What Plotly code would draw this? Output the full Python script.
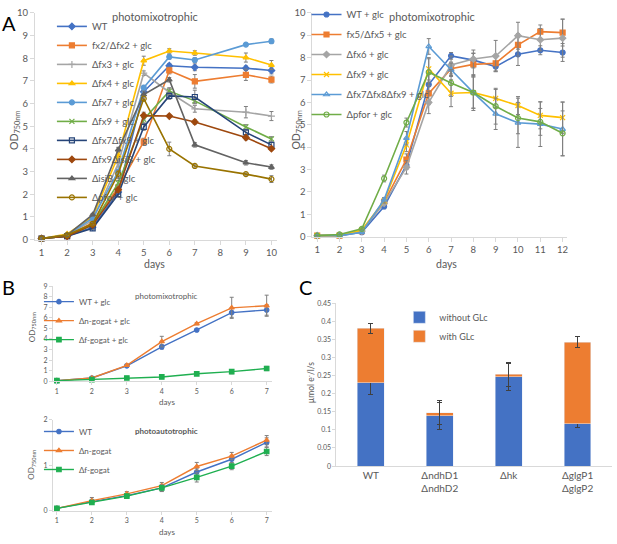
import plotly.graph_objects as go

W, H = 617, 544
FONT = "Lato"
TXT = "#595959"
AX = "#D9D9D9"
ERR = "#7F7F7F"

# ---- panel A left: photomixotrophic, days 1-10 (no day 8)
a1_days = [1, 2, 3, 4, 5, 6, 7, 9, 10]
a1_names = ["WT", "fx2/Δfx2 + glc", "Δfx3 + glc", "Δfx4 + glc", "Δfx7 + glc",
            "Δfx9 + glc", "Δfx7Δfx9 + glc", "Δfx9ΔisiB + glc", "ΔisiB + glc", "Δpfor + glc"]
a1_wt      = [0.05, 0.15, 0.55, 2.1, 6.52, 7.67, 7.6, 7.56, 7.46]
a1_fx2     = [0.05, 0.15, 0.75, 2.3, 4.32, 7.46, 6.98, 7.27, 7.06]
a1_fx3     = [0.05, 0.2, 0.85, 3.35, 7.34, 6.5, 5.77, 5.62, 5.45]
a1_fx4     = [0.05, 0.25, 1.0, 3.7, 7.89, 8.32, 8.23, 8.03, 7.7]
a1_fx7     = [0.05, 0.2, 0.95, 3.0, 6.7, 8.06, 7.92, 8.6, 8.75]
a1_fx9     = [0.05, 0.15, 0.65, 2.5, 5.3, 6.55, 6.12, 4.97, 4.44]
a1_fx7fx9  = [0.05, 0.15, 0.5, 2.0, 4.97, 6.34, 6.29, 4.73, 4.18]
a1_fx9isiB = [0.05, 0.15, 0.65, 2.2, 5.47, 5.45, 5.19, 4.5, 4.01]
a1_isiB    = [0.05, 0.2, 1.1, 3.97, 6.4, 7.05, 4.18, 3.39, 3.2]
a1_pfor    = [0.05, 0.2, 0.7, 2.9, 6.22, 4.0, 3.25, 2.89, 2.67]
a1_err = [
    [0.02, 0.02, 0.05, 0.1, 0.15, 0.1, 0.15, 0.1, 0.15],
    [0.02, 0.02, 0.05, 0.1, 0.15, 0.15, 0.3, 0.25, 0.15],
    [0.02, 0.02, 0.05, 0.15, 0.1, 0.15, 0.15, 0.25, 0.2],
    [0.02, 0.02, 0.05, 0.15, 0.2, 0.1, 0.1, 0.2, 0.2],
    [0.02, 0.02, 0.05, 0.1, 0.1, 0.1, 0.1, 0.05, 0.1],
    [0.02, 0.02, 0.05, 0.1, 0.15, 0.15, 0.1, 0.1, 0.1],
    [0.02, 0.02, 0.05, 0.1, 0.15, 0.15, 0.3, 0.1, 0.1],
    [0.02, 0.02, 0.05, 0.1, 0.15, 0.05, 0.1, 0.1, 0.05],
    [0.02, 0.02, 0.05, 0.1, 0.15, 0.1, 0.1, 0.1, 0.1],
    [0.02, 0.02, 0.05, 0.15, 0.1, 0.3, 0.05, 0.05, 0.15],
]
a1_vals = [a1_wt, a1_fx2, a1_fx3, a1_fx4, a1_fx7, a1_fx9, a1_fx7fx9, a1_fx9isiB, a1_isiB, a1_pfor]
a1_colors = ["#4472C4", "#ED7D31", "#A5A5A5", "#FFC000", "#5B9BD5",
             "#70AD47", "#264478", "#9E480E", "#636363", "#997300"]
a1_symbols = ["diamond", "square", "cross-thin-open", "triangle-up", "circle",
              "x-thin-open", "square-open", "diamond", "triangle-up", "circle-open"]

# ---- panel A right: photomixotrophic, days 1-12
a2_days = list(range(1, 13))
a2_names = ["WT + glc", "fx5/Δfx5 + glc", "Δfx6 + glc", "Δfx9 + glc",
            "Δfx7Δfx8Δfx9 + glc", "Δpfor + glc"]
a2_wt    = [0.05, 0.05, 0.2, 1.35, 3.2, 6.8, 8.08, 7.89, 7.6, 8.15, 8.33, 8.23]
a2_fx5   = [0.05, 0.05, 0.25, 1.55, 3.45, 6.4, 7.5, 7.7, 7.75, 8.57, 9.16, 9.12]
a2_fx6   = [0.05, 0.05, 0.25, 1.5, 3.1, 6.0, 7.67, 7.94, 8.07, 8.98, 8.8, 8.87]
a2_fx9   = [0.05, 0.05, 0.3, 1.6, 4.1, 7.5, 6.41, 6.44, 6.18, 5.86, 5.42, 5.32]
a2_fx789 = [0.05, 0.05, 0.2, 1.65, 4.4, 8.5, 7.46, 6.44, 5.49, 5.09, 5.03, 4.81]
a2_pfor  = [0.05, 0.1, 0.35, 2.6, 5.1, 7.35, 6.87, 6.44, 5.83, 5.3, 5.13, 4.62]
a2_err = [
    [0.02, 0.02, 0.05, 0.1, 0.2, 0.5, 0.15, 0.3, 0.2, 0.5, 0.2, 0.4],
    [0.02, 0.02, 0.05, 0.1, 0.25, 0.5, 0.3, 0.5, 0.35, 0.5, 0.3, 0.6],
    [0.02, 0.02, 0.05, 0.1, 0.3, 0.5, 0.4, 0.4, 0.7, 0.6, 0.5, 0.85],
    [0.02, 0.02, 0.05, 0.1, 0.3, 0.5, 0.6, 0.7, 0.4, 0.4, 0.6, 0.7],
    [0.02, 0.02, 0.05, 0.1, 0.3, 0.35, 0.3, 0.7, 0.7, 1.1, 1.0, 1.2],
    [0.02, 0.02, 0.05, 0.15, 0.2, 0.6, 0.6, 0.8, 0.8, 0.7, 0.6, 1.0],
]
a2_vals = [a2_wt, a2_fx5, a2_fx6, a2_fx9, a2_fx789, a2_pfor]
a2_colors = ["#4472C4", "#ED7D31", "#A5A5A5", "#FFC000", "#5B9BD5", "#70AD47"]
a2_symbols = ["circle", "square", "diamond", "x-thin-open", "triangle-up-open", "circle-open"]

# ---- panel B: GOGAT mutants, days 1-7
b_days = [1, 2, 3, 4, 5, 6, 7]
b1_names = ["WT + glc", "Δn-gogat + glc", "Δf-gogat + glc"]
b1_wt = [0.05, 0.3, 1.45, 3.25, 4.85, 6.5, 6.75]
b1_n  = [0.05, 0.3, 1.5, 3.75, 5.45, 6.95, 7.15]
b1_f  = [0.05, 0.15, 0.3, 0.4, 0.7, 0.9, 1.2]
b1_err = [[0.02, 0.05, 0.1, 0.2, 0.1, 0.45, 0.5],
          [0.02, 0.05, 0.1, 0.5, 0.1, 1.0, 1.0],
          [0.02, 0.05, 0.1, 0.15, 0.15, 0.2, 0.2]]
b2_names = ["WT", "Δn-gogat", "Δf-gogat"]
b2_wt = [0.05, 0.2, 0.33, 0.5, 0.85, 1.13, 1.5]
b2_n  = [0.05, 0.22, 0.37, 0.55, 0.97, 1.2, 1.55]
b2_f  = [0.05, 0.18, 0.32, 0.5, 0.73, 0.98, 1.3]
b2_err = [[0.01, 0.05, 0.05, 0.08, 0.07, 0.08, 0.1],
          [0.01, 0.07, 0.05, 0.07, 0.09, 0.08, 0.1],
          [0.01, 0.04, 0.04, 0.07, 0.1, 0.08, 0.09]]
b_colors = ["#4472C4", "#ED7D31", "#1FAF50"]
b_symbols = ["circle", "triangle-up", "square"]

# ---- panel C: electron flux
c_strains = ["WT", "ΔndhD1<br>ΔndhD2", "Δhk", "ΔglgP1<br>ΔglgP2"]
c_without = [0.23, 0.139, 0.246, 0.117]
c_with = [0.15, 0.008, 0.007, 0.225]     # stacked on top of c_without
c_without_err = [0.032, 0.037, 0.038, 0.011]
c_total_err = [0.013, 0.033, 0.033, 0.015]


def fx(px):
    return px / W


def fy(py):
    return 1 - py / H


fig = go.Figure()


def add_lines(days, vals, errs, names, colors, symbols, xa, ya, leg, size=5, width=1.6, gap=False):
    for i, (v, e, n, c, s) in enumerate(zip(vals, errs, names, colors, symbols)):
        fig.add_trace(go.Scatter(
            x=days, y=v, name=n, mode="lines+markers", xaxis=xa, yaxis=ya, legend=leg,
            legendgroup=f"{leg}_{i}" if gap else None,
            line=dict(color=c, width=width),
            marker=dict(symbol=s, size=size, color=c, line=dict(color=c, width=1.2)),
            error_y=dict(type="data", array=e, color=ERR, thickness=1, width=2),
            cliponaxis=False))


add_lines(a1_days, a1_vals, a1_err, a1_names, a1_colors, a1_symbols, "x", "y", "legend")
add_lines(a2_days, a2_vals, a2_err, a2_names, a2_colors, a2_symbols, "x2", "y2", "legend2", gap=True)
add_lines(b_days, [b1_wt, b1_n, b1_f], b1_err, b1_names, b_colors, b_symbols, "x3", "y3", "legend3",
          size=4.5, width=1.4)
add_lines(b_days, [b2_wt, b2_n, b2_f], b2_err, b2_names, b_colors, b_symbols, "x4", "y4", "legend4",
          size=4.5, width=1.4)

fig.add_trace(go.Bar(x=c_strains, y=c_without, name="without GLc", marker_color="#4472C4",
                     width=0.39, xaxis="x5", yaxis="y5", legend="legend5",
                     error_y=dict(type="data", array=c_without_err, color="#404040", thickness=1, width=2.5)))
fig.add_trace(go.Bar(x=c_strains, y=c_with, name="with GLc", marker_color="#ED7D31",
                     width=0.39, xaxis="x5", yaxis="y5", legend="legend5",
                     error_y=dict(type="data", array=c_total_err, color="#404040", thickness=1, width=2.5)))

axis_common = dict(showline=True, linecolor=AX, linewidth=1, ticks="outside", tickcolor=AX,
                   ticklen=4, showgrid=False, zeroline=False, tickfont=dict(color=TXT))

fig.update_layout(
    width=W, height=H, margin=dict(l=0, r=0, t=0, b=0),
    paper_bgcolor="white", plot_bgcolor="white",
    font=dict(family=FONT, color=TXT),
    barmode="stack", showlegend=True,
    xaxis=dict(axis_common, domain=[fx(35), fx(277)], range=[0.74, 10.2], dtick=1, tick0=1,
               anchor="y", tickfont=dict(size=9.5, color=TXT)),
    yaxis=dict(axis_common, domain=[fy(237.3), fy(5)], range=[0, 10], dtick=1,
               anchor="x", tickfont=dict(size=9.5, color=TXT)),
    xaxis2=dict(axis_common, domain=[fx(313), fx(568)], range=[0.79, 12.2], dtick=1, tick0=1,
                anchor="y2", tickfont=dict(size=9.5, color=TXT)),
    yaxis2=dict(axis_common, domain=[fy(234.3), fy(5)], range=[0, 10], dtick=1,
                anchor="x2", tickfont=dict(size=9.5, color=TXT)),
    xaxis3=dict(axis_common, domain=[fx(53), fx(272)], range=[0.886, 7.14], dtick=1, tick0=1,
                anchor="y3", ticklen=3, tickfont=dict(size=7, color=TXT)),
    yaxis3=dict(axis_common, domain=[fy(382.3), fy(285)], range=[0, 9], dtick=1,
                anchor="x3", ticklen=3, tickfont=dict(size=7, color=TXT)),
    xaxis4=dict(axis_common, domain=[fx(53), fx(272)], range=[0.886, 7.14], dtick=1, tick0=1,
                anchor="y4", ticklen=3, tickfont=dict(size=7, color=TXT)),
    yaxis4=dict(axis_common, domain=[fy(515), fy(421.7)], range=[0, 2], dtick=1,
                anchor="x4", ticklen=3, tickfont=dict(size=7, color=TXT)),
    xaxis5=dict(showline=True, linecolor=AX, showgrid=False, domain=[fx(337), fx(613)],
                range=[-0.5, 3.5], type="category", anchor="y5", ticks="",
                tickfont=dict(size=10, color=TXT)),
    yaxis5=dict(axis_common, domain=[fy(469.3), fy(302.3)], range=[0, 0.45], dtick=0.05,
                anchor="x5", ticklen=3, tickfont=dict(size=7, color=TXT)),
    legend=dict(x=fx(52), y=fy(4), xanchor="left", yanchor="top", bgcolor="rgba(0,0,0,0)",
                font=dict(size=9.5, color=TXT), tracegroupgap=0),
    legend2=dict(x=fx(307), y=fy(-8.5), xanchor="left", yanchor="top", bgcolor="rgba(0,0,0,0)",
                 font=dict(size=9.5, color=TXT), tracegroupgap=1),
    legend3=dict(x=fx(39), y=fy(286), xanchor="left", yanchor="top", bgcolor="rgba(0,0,0,0)",
                 font=dict(size=8, color=TXT), tracegroupgap=0),
    legend4=dict(x=fx(39), y=fy(419), xanchor="left", yanchor="top", bgcolor="rgba(0,0,0,0)",
                 font=dict(size=8, color=TXT), tracegroupgap=0),
    legend5=dict(x=fx(400), y=fy(302), xanchor="left", yanchor="top", bgcolor="rgba(0,0,0,0)",
                 font=dict(size=9, color=TXT), traceorder="normal"),
)

ann = []


def note(text, px, py, size, color=TXT, angle=0, bold=False):
    ann.append(dict(text=f"<b>{text}</b>" if bold else text, x=fx(px), y=fy(py),
                    xref="paper", yref="paper", showarrow=False, textangle=angle,
                    xanchor="center", yanchor="middle", font=dict(size=size, color=color, family=FONT)))


note("A", 9, 15, 20, "#000")
note("B", 9, 286, 20, "#000")
note("C", 306, 286, 20, "#000")
note("photomixotrophic", 155, 9, 11)
note("photomixotrophic", 433, 9, 11)
note("photomixotrophic", 167, 295, 8)
note("photoautotrophic", 167, 433, 8, bold=True)
note("days", 155, 262, 10.5)
note("days", 447, 262, 10.5)
note("days", 167, 404, 8)
note("days", 167, 537, 8)
note("OD<sub>750nm</sub>", 15, 125, 10.5, angle=-90)
note("OD<sub>750nm</sub>", 297, 125, 10.5, angle=-90)
note("OD<sub>750nm</sub>", 32, 327, 8, angle=-90)
note("OD<sub>750nm</sub>", 32, 468, 8, angle=-90)
note("µmol e<sup>-</sup>/l/s", 311, 383, 8.5, angle=-90)
fig.update_layout(annotations=ann)

# the page body has a default 8px margin; drop it so the chart fills the window
fig.write_html("out.html", config={"displayModeBar": False},
               post_script="document.body.style.margin='0';")
